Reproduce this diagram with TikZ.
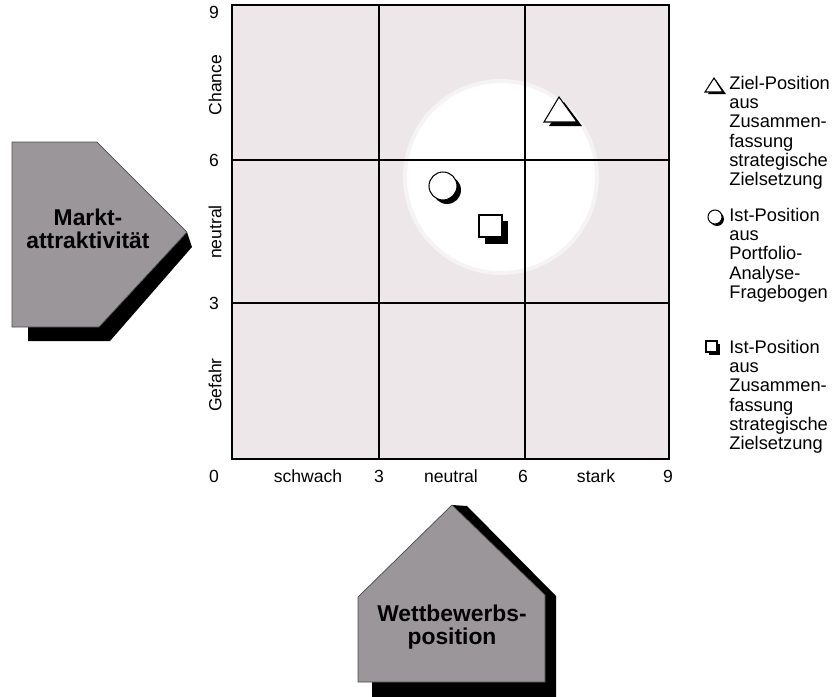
\documentclass[tikz,border=0pt]{standalone}
\usepackage{fontspec}
\setmainfont{Liberation Sans}
\usetikzlibrary{positioning}
\definecolor{plotbg}{RGB}{237,231,234}
\definecolor{tafelgray}{RGB}{155,150,153}
\begin{document}
\begin{tikzpicture}[
    x=0.02cm, y=-0.02cm,
    gridline/.style={line width=0.8pt},
    plotframe/.style={line width=1.3pt},
    axislabel/.style={font=\fontsize{10}{12}\selectfont, inner sep=0pt},
    legendtext/.style={font=\fontsize{10.4}{10.9}\selectfont, align=left, anchor=north west, inner sep=0pt},
    tafel/.style={fill=tafelgray, draw=black!70, line width=0.4pt},
    blackshadow/.style={fill=black},
    tafeltext/.style={font=\fontsize{13}{13}\selectfont\bfseries, align=center},
    marker/.style={fill=white, draw=black, line width=0.6pt}
]
\useasboundingbox (0,0) rectangle (840,697);
\fill[plotbg] (232,5) rectangle (669,459);
\fill[white, opacity=0.5] (501,177) circle (1.96cm);
\fill[white] (501,177) circle (1.88cm);
\draw[gridline] (379,5) -- (379,459);
\draw[gridline] (525,5) -- (525,459);
\draw[gridline] (232,160) -- (669,160);
\draw[gridline] (232,303) -- (669,303);
\draw[plotframe] (232,5) rectangle (669,459);
\node[axislabel] (y9) at (214,12) {9};
\node[axislabel] (y6) at (214,160) {6};
\node[axislabel] (y3) at (214,303) {3};
\node[axislabel, rotate=90] (chance) at (215,85) {Chance};
\node[axislabel, rotate=90] (yneutral) at (215,232) {neutral};
\node[axislabel, rotate=90] (gefahr) at (215,385) {Gefahr};
\node[axislabel] (x0) at (214,476) {0};
\node[axislabel] (schwach) at (308,476) {schwach};
\node[axislabel] (x3) at (379,476) {3};
\node[axislabel] (xneutral) at (451,476) {neutral};
\node[axislabel] (x6) at (523,476) {6};
\node[axislabel] (stark) at (596,476) {stark};
\node[axislabel] (x9) at (668,476) {9};
\fill[blackshadow] (564,102) -- (549,126) -- (582,126) -- cycle;
\draw[marker] (559,97) -- (544,122) -- (577,122) -- cycle;
\fill[blackshadow] (447,190) circle (0.28cm);
\draw[marker] (443,186) circle (0.28cm);
\fill[blackshadow] (485,221) rectangle (508,244);
\draw[marker] (479,215) rectangle (502,237);
\fill[blackshadow] (716,80) -- (708,94) -- (726,94) -- cycle;
\draw[marker] (714,78) -- (705,92) -- (723,92) -- cycle;
\fill[blackshadow] (717,219) circle (0.14cm);
\draw[marker] (715,217) circle (0.14cm);
\fill[blackshadow] (709,344) rectangle (720,355);
\draw[marker] (706,341) rectangle (717,352);
\node[legendtext] (lziel) at (729,76) {Ziel-Position\\aus\\Zusammen-\\fassung\\strategische\\Zielsetzung};
\node[legendtext] (listport) at (729,208) {Ist-Position\\aus\\Portfolio-\\Analyse-\\Fragebogen};
\node[legendtext] (listzus) at (729,340) {Ist-Position\\aus\\Zusammen-\\fassung\\strategische\\Zielsetzung};
\fill[blackshadow] (28,327) -- (28,341) -- (110,341) -- (192,247) -- (187,232) -- (99,327) -- cycle;
\draw[tafel] (12,142) -- (97,142) -- (187,232) -- (99,327) -- (12,327) -- cycle;
\node[tafeltext] (markt) at (88,229) {Markt-\\attraktivität};
\fill[blackshadow] (452,505) -- (467,506) -- (556,596) -- (556,697) -- (372,697) -- (372,682) -- (545,682) -- (545,595) -- cycle;
\draw[tafel] (452,505) -- (545,595) -- (545,682) -- (358,682) -- (358,597) -- cycle;
\node[tafeltext] (wettbewerb) at (452,627) {Wettbewerbs-\\position};
\end{tikzpicture}
\end{document}
